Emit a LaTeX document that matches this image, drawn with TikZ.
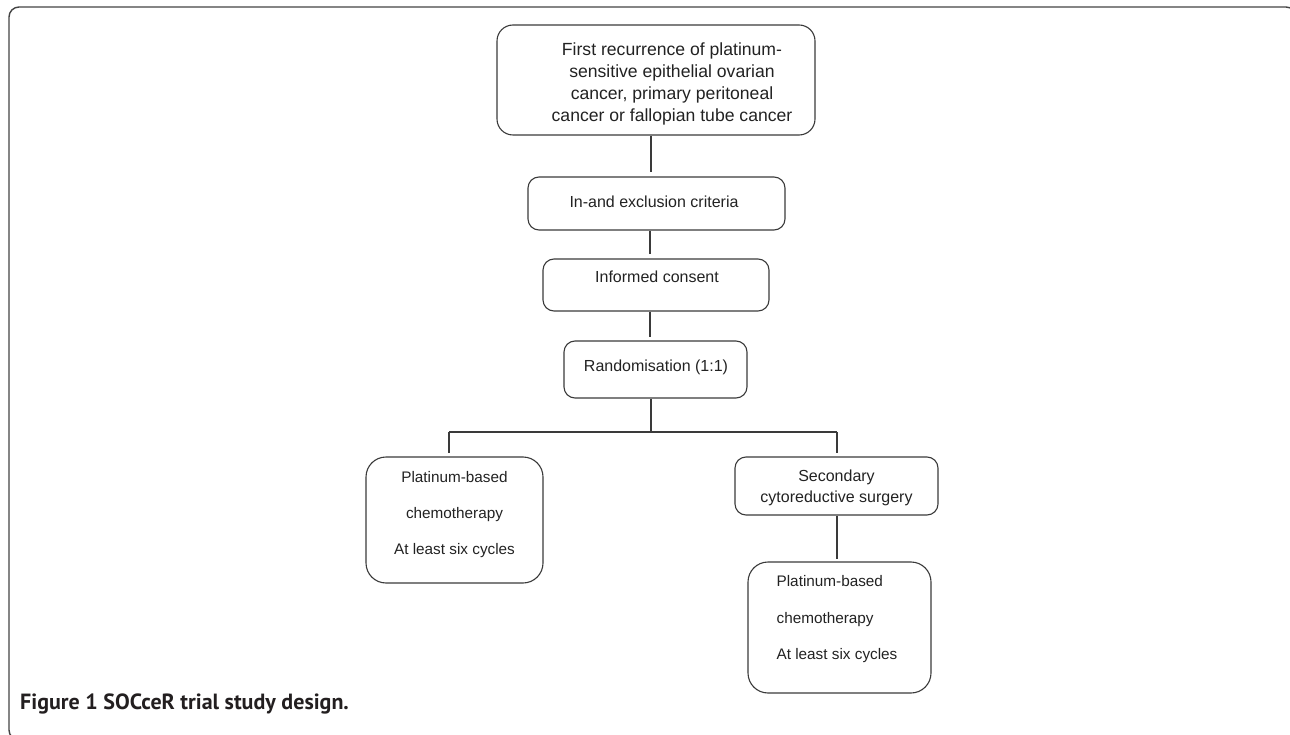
\documentclass[tikz,border=0pt]{standalone}
\usepackage{fontspec}
\setmainfont{Liberation Sans}
\newfontfamily\capfont{PT Sans}
\definecolor{linec}{HTML}{3A3A3A}
\definecolor{txtc}{HTML}{222222}
\definecolor{framec}{HTML}{444444}
\definecolor{capc}{HTML}{231F20}
\begin{document}
\begin{tikzpicture}[x=1pt,y=-1pt,
  box/.style={draw=linec, line width=1.1pt, rounded corners=#1, inner sep=0pt},
  box/.default=12pt,
  txt/.style={text=txtc, inner sep=0pt},
  conn/.style={draw=linec, line width=1.1pt},
]
\useasboundingbox (0,0) rectangle (1290,735);
\clip (0,0) rectangle (1290,735);
\draw[draw=framec, line width=1.4pt, rounded corners=10pt] (9,7) rectangle (1296,740);

\node[box=16pt, minimum width=318pt, minimum height=110pt,
  label={[txt, align=center, font=\fontsize{17.6}{22.3}\selectfont, xshift=16pt, yshift=-4pt]center:{First recurrence of platinum-\\sensitive epithelial ovarian\\cancer, primary peritoneal\\cancer or fallopian tube cancer}}] (top) at (656,80) {};
\node[box=11pt, minimum width=257pt, minimum height=53pt,
  label={[txt, font=\fontsize{16}{19}\selectfont, xshift=-2.5pt, yshift=1.5pt]center:{In-and exclusion criteria}}] (inand) at (656.5,203.5) {};
\node[box=11pt, minimum width=226pt, minimum height=52pt,
  label={[txt, font=\fontsize{16}{19}\selectfont, xshift=1pt, yshift=8pt]center:{Informed consent}}] (consent) at (656,285) {};
\node[box=11pt, minimum width=183pt, minimum height=57pt,
  label={[txt, font=\fontsize{16}{19}\selectfont, xshift=0.5pt, yshift=2.5pt]center:{Randomisation (1:1)}}] (rand) at (655.5,369.5) {};
\node[box=20pt, minimum width=177pt, minimum height=126pt,
  label={[txt, align=center, font=\fontsize{15.3}{36}\selectfont, yshift=5pt]center:{Platinum-based\\chemotherapy\\At least six cycles}}] (left) at (454.5,520) {};
\node[box=11pt, minimum width=203pt, minimum height=58pt,
  label={[txt, align=center, font=\fontsize{16}{21}\selectfont, yshift=-1.5pt]center:{Secondary\\cytoreductive surgery}}] (second) at (836.5,486) {};
\node[box=20pt, minimum width=183pt, minimum height=131pt,
  label={[txt, align=left, font=\fontsize{15.3}{36.5}\selectfont, xshift=-2.5pt, yshift=8pt]center:{Platinum-based\\chemotherapy\\At least six cycles}}] (rb) at (839.5,627.5) {};

\coordinate (split) at (651,432);
\draw[conn, shorten >=4pt] ([xshift=-5pt]top.south) -- ([xshift=-5pt]top.south |- inand.north);
\draw[conn, shorten >=4pt] ([xshift=-6.5pt]inand.south) -- ([xshift=-6.5pt]inand.south |- consent.north);
\draw[conn, shorten >=3pt] ([xshift=-6pt]consent.south) -- ([xshift=-6pt]consent.south |- rand.north);
\draw[conn] ([xshift=-4.5pt]rand.south) -- (split);
\draw[conn] ([xshift=-5.5pt]left.north |- split) -- ([xshift=0.5pt]second.north |- split);
\draw[conn, shorten >=3pt] ([xshift=-5.5pt]left.north |- split) -- ([xshift=-5.5pt]left.north);
\draw[conn, shorten >=3pt] ([xshift=0.5pt]second.north |- split) -- ([xshift=0.5pt]second.north);
\draw[conn, shorten >=2pt] ([xshift=0.5pt]second.south) -- ([xshift=0.5pt]second.south |- rb.north);

\node[anchor=base west, inner sep=0pt, text=capc, font=\capfont\bfseries\fontsize{22}{24}\selectfont] (cap) at (20,709) {Figure 1 SOCceR trial study design.};
\end{tikzpicture}
\end{document}
